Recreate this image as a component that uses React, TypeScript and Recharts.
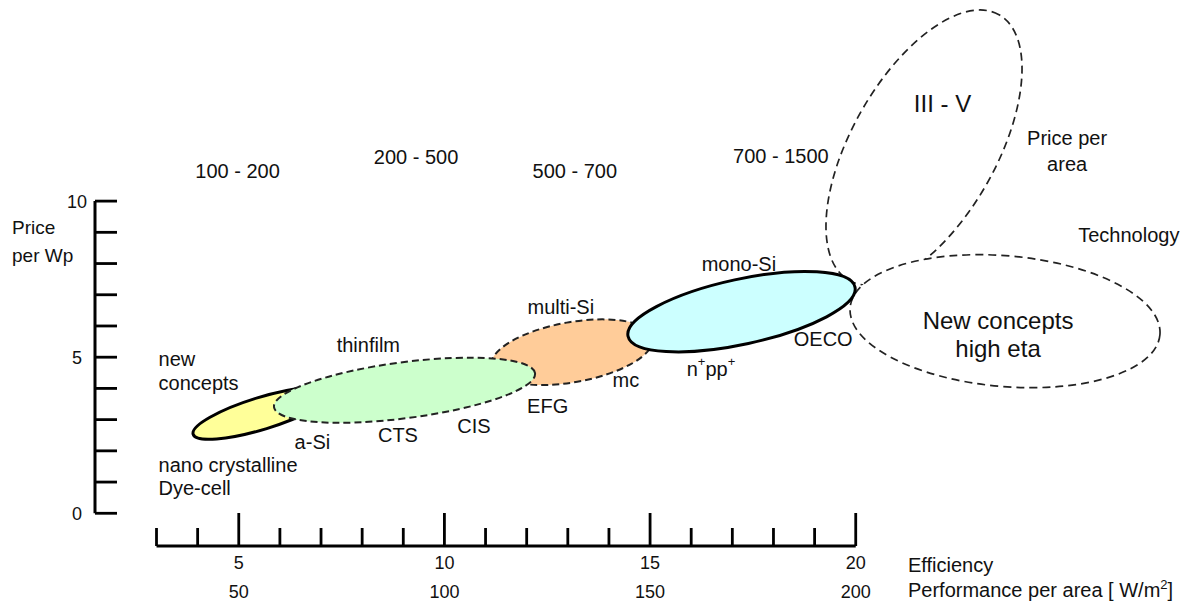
import React from 'react';
import { ScatterChart, Scatter, XAxis, YAxis, ReferenceLine } from 'recharts';

const FONT = '"Liberation Sans", Arial, Helvetica, sans-serif';

// axis domains (data units)
const X_MIN = 1.5047;
const X_MAX = 28.2;
const Y_MIN = -1.048;
const Y_MAX = 16.442;

// efficiency axis (bottom)
const efficiencyTicks = [3, 4, 5, 6, 7, 8, 9, 10, 11, 12, 13, 14, 15, 16, 17, 18, 19, 20];
const efficiencyLabels: Record<number, string> = { 5: '5', 10: '10', 15: '15', 20: '20' };
const performanceLabels: Record<number, string> = { 5: '50', 10: '100', 15: '150', 20: '200' };

// price axis (left)
const priceTicks = [0, 1, 2, 3, 4, 5, 6, 7, 8, 9, 10];
const priceLabels: Record<number, string> = { 0: '0', 5: '5', 10: '10' };

// technology regions: [centre, end of semi-major axis, end of semi-minor axis]
const nanoCrystalline = [{ x: 5.565, y: 3.205 }, { x: 7.239, y: 3.88 }, { x: 5.451, y: 3.696 }];
const thinfilm = [{ x: 9.03, y: 3.942 }, { x: 12.203, y: 4.486 }, { x: 8.942, y: 4.832 }];
const multiSi = [{ x: 13.102, y: 5.16 }, { x: 15.065, y: 5.617 }, { x: 12.975, y: 6.107 }];
const monoSi = [{ x: 17.223, y: 6.458 }, { x: 19.982, y: 7.245 }, { x: 17.056, y: 7.477 }];
const threeFive = [{ x: 21.66, y: 11.715 }, { x: 23.483, y: 15.971 }, { x: 20.125, y: 12.857 }];
const newConcepts = [{ x: 23.63, y: 6.154 }, { x: 27.396, y: 5.719 }, { x: 23.768, y: 8.24 }];

// annotations
const rangeLabels = [
  { x: 4.97, y: 10.96, text: '100 - 200' },
  { x: 9.31, y: 11.41, text: '200 - 500' },
  { x: 13.17, y: 10.96, text: '500 - 700' },
  { x: 18.18, y: 11.44, text: '700 - 1500' },
];
const techLabels = [
  { x: 8.15, y: 5.38, text: 'thinfilm' },
  { x: 6.79, y: 2.29, text: 'a-Si' },
  { x: 8.87, y: 2.5, text: 'CTS' },
  { x: 10.72, y: 2.79, text: 'CIS' },
  { x: 12.51, y: 3.43, text: 'EFG' },
  { x: 12.83, y: 6.6, text: 'multi-Si' },
  { x: 14.41, y: 4.26, text: 'mc' },
  { x: 17.16, y: 7.98, text: 'mono-Si' },
  { x: 19.21, y: 5.57, text: 'OECO' },
  { x: 25.14, y: 12.02, text: 'Price per' },
  { x: 25.14, y: 11.2, text: 'area' },
  { x: 26.64, y: 8.91, text: 'Technology' },
];
const leftLabels = [
  { x: 3.05, y: 4.94, text: 'new' },
  { x: 3.05, y: 4.18, text: 'concepts' },
  { x: 3.05, y: 1.54, text: 'nano crystalline' },
  { x: 3.05, y: 0.8, text: 'Dye-cell' },
];
const bigLabels = [
  { x: 22.11, y: 13.13, text: 'III - V' },
  { x: 23.46, y: 6.19, text: 'New concepts' },
  { x: 23.46, y: 5.28, text: 'high eta' },
];
const cellLabels = [{ x: 16.48, y: 4.62, text: 'n+pp+' }];

type P = { x: number; y: number };

function ellipsePath(pts: P[]): string {
  if (!pts || pts.length < 3) return '';
  const [c, u, v] = pts;
  const ux = u.x - c.x;
  const uy = u.y - c.y;
  const vx = v.x - c.x;
  const vy = v.y - c.y;
  const k = 0.5523;
  const p = (a: number, b: number) => `${(c.x + a).toFixed(2)},${(c.y + b).toFixed(2)}`;
  return (
    `M${p(ux, uy)} ` +
    `C${p(ux + k * vx, uy + k * vy)} ${p(vx + k * ux, vy + k * uy)} ${p(vx, vy)} ` +
    `C${p(vx - k * ux, vy - k * uy)} ${p(-ux + k * vx, -uy + k * vy)} ${p(-ux, -uy)} ` +
    `C${p(-ux - k * vx, -uy - k * vy)} ${p(-vx - k * ux, -vy - k * uy)} ${p(-vx, -vy)} ` +
    `C${p(-vx + k * ux, -vy + k * uy)} ${p(ux - k * vx, uy - k * vy)} ${p(ux, uy)} Z`
  );
}

const ellipseLine = (style: Record<string, any>) => (props: any) => (
  <path d={ellipsePath(props.points)} {...style} />
);

const Empty = () => <g />;

const textShape = (size: number, anchor: 'start' | 'middle' | 'end') => (props: any) => (
  <text
    x={props.cx}
    y={props.cy}
    fontSize={size}
    fontFamily={FONT}
    textAnchor={anchor}
    dominantBaseline="central"
    fill="#111"
  >
    {props.payload.text}
  </text>
);

const cellShape = (props: any) => (
  <text x={props.cx} y={props.cy} fontSize={20} fontFamily={FONT} textAnchor="middle" dominantBaseline="central" fill="#111">
    n<tspan dy={-8} fontSize={13}>+</tspan>
    <tspan dy={8}>pp</tspan>
    <tspan dy={-8} fontSize={13}>+</tspan>
  </text>
);

const XTick = (props: any) => {
  const { x, y, payload } = props;
  const v = payload.value as number;
  const major = efficiencyLabels[v] !== undefined;
  return (
    <g>
      <line x1={x} y1={y} x2={x} y2={y - (major ? 33 : 18)} stroke="#000" strokeWidth={2.8} />
      {major && (
        <text x={x} y={y + 17} fontSize={18} fontFamily={FONT} textAnchor="middle" dominantBaseline="central" fill="#111">
          {efficiencyLabels[v]}
        </text>
      )}
      {major && (
        <text x={x} y={y + 46} fontSize={18} fontFamily={FONT} textAnchor="middle" dominantBaseline="central" fill="#111">
          {performanceLabels[v]}
        </text>
      )}
    </g>
  );
};

const YTick = (props: any) => {
  const { x, y, payload } = props;
  const v = payload.value as number;
  return (
    <g>
      <line x1={x} y1={y} x2={x + 22} y2={y} stroke="#000" strokeWidth={2.8} />
      {priceLabels[v] !== undefined && (
        <text x={x - 18} y={y + 1} fontSize={18} fontFamily={FONT} textAnchor="middle" dominantBaseline="central" fill="#111">
          {priceLabels[v]}
        </text>
      )}
    </g>
  );
};

const YTitle = (props: any) => {
  const vb = props.viewBox || { x: 0, y: 0 };
  return (
    <g>
      <text x={vb.x + 12} y={vb.y + 227} fontSize={19} fontFamily={FONT} dominantBaseline="central" fill="#111">
        Price
      </text>
      <text x={vb.x + 12} y={vb.y + 255} fontSize={19} fontFamily={FONT} dominantBaseline="central" fill="#111">
        per Wp
      </text>
    </g>
  );
};

const XTitle = (props: any) => {
  const vb = props.viewBox || { x: 95, y: 546 };
  return (
    <g>
      <text x={vb.x + 813} y={vb.y + 19} fontSize={20} fontFamily={FONT} dominantBaseline="central" fill="#111">
        Efficiency
      </text>
      <text x={vb.x + 813} y={vb.y + 44} fontSize={20} fontFamily={FONT} dominantBaseline="central" fill="#111">
        Performance per area [ W/m<tspan dy={-6} fontSize={13}>2</tspan>
        <tspan dy={6}>]</tspan>
      </text>
    </g>
  );
};

const dashedThin = { fill: '#ffffff', stroke: '#222', strokeWidth: 1.7, strokeDasharray: '8 5' };

export default function App() {
  return (
    <div style={{ position: 'absolute', left: 0, top: 0, width: 1193, height: 603, background: '#fff' }}>
      <ScatterChart width={1193} height={603} margin={{ top: 0, right: 0, bottom: 0, left: 0 }}>
        <XAxis
          type="number"
          dataKey="x"
          domain={[X_MIN, X_MAX]}
          ticks={efficiencyTicks}
          interval={0}
          height={57}
          axisLine={false}
          tickLine={false}
          tickSize={0}
          tickMargin={0}
          tick={(p: any) => <XTick {...p} />}
          label={(p: any) => <XTitle {...p} />}
        />
        <YAxis
          type="number"
          dataKey="y"
          domain={[Y_MIN, Y_MAX]}
          ticks={priceTicks}
          interval={0}
          width={95}
          axisLine={false}
          tickLine={false}
          tickSize={0}
          tickMargin={0}
          tick={(p: any) => <YTick {...p} />}
          label={(p: any) => <YTitle {...p} />}
        />
        <ReferenceLine
          segment={[{ x: X_MIN, y: 0 }, { x: X_MIN, y: 10 }]}
          stroke="#000"
          strokeWidth={3}
          ifOverflow="visible"
        />
        <ReferenceLine
          segment={[{ x: 3, y: Y_MIN }, { x: 20, y: Y_MIN }]}
          stroke="#000"
          strokeWidth={3}
          ifOverflow="visible"
        />
        <Scatter data={threeFive} shape={Empty} line={ellipseLine({ ...dashedThin, fill: 'none' })} isAnimationActive={false} />
        <Scatter data={newConcepts} shape={Empty} line={ellipseLine(dashedThin)} isAnimationActive={false} />
        <Scatter
          data={multiSi}
          shape={Empty}
          line={ellipseLine({ fill: '#ffcc99', stroke: '#222', strokeWidth: 2, strokeDasharray: '7 4' })}
          isAnimationActive={false}
        />
        <Scatter
          data={nanoCrystalline}
          shape={Empty}
          line={ellipseLine({ fill: '#ffff99', stroke: '#000', strokeWidth: 3 })}
          isAnimationActive={false}
        />
        <Scatter
          data={thinfilm}
          shape={Empty}
          line={ellipseLine({ fill: '#ccffcc', stroke: '#222', strokeWidth: 2, strokeDasharray: '7 4' })}
          isAnimationActive={false}
        />
        <Scatter
          data={monoSi}
          shape={Empty}
          line={ellipseLine({ fill: '#ccffff', stroke: '#000', strokeWidth: 3 })}
          isAnimationActive={false}
        />
        <Scatter data={rangeLabels} shape={textShape(20, 'middle')} isAnimationActive={false} />
        <Scatter data={techLabels} shape={textShape(20, 'middle')} isAnimationActive={false} />
        <Scatter data={leftLabels} shape={textShape(20, 'start')} isAnimationActive={false} />
        <Scatter data={bigLabels} shape={textShape(24, 'middle')} isAnimationActive={false} />
        <Scatter data={cellLabels} shape={cellShape} isAnimationActive={false} />
      </ScatterChart>
    </div>
  );
}
